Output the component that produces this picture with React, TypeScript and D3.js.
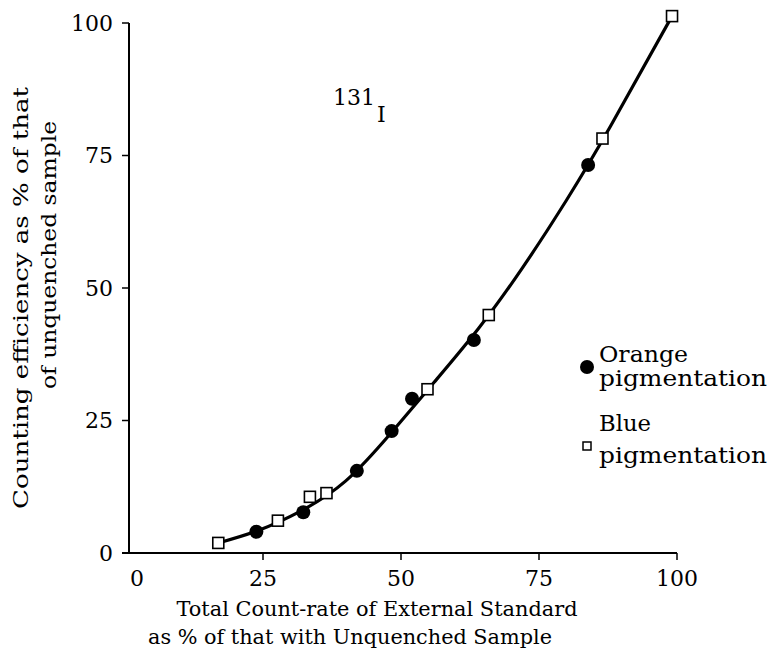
import React from "react";
import * as d3 from "d3";

const orangeX = [23.8, 32.3, 42.0, 48.3, 52.0, 63.2, 83.9];
const orangeY = [4.0, 7.7, 15.5, 23.0, 29.1, 40.2, 73.2];
const blueX = [16.9, 27.7, 33.5, 36.5, 54.8, 65.9, 86.5, 99.1];
const blueY = [1.9, 6.1, 10.6, 11.3, 30.9, 44.9, 78.2, 101.3];
const curveX = [16.9, 24, 32, 40, 48, 56, 64, 72, 80, 88, 99.1];
const curveY = [1.9, 4.2, 8.0, 13.6, 22.4, 32.2, 42.3, 53.8, 66.6, 80.6, 101.3];
const xTicks = [0, 25, 50, 75, 100];
const yTicks = [0, 25, 50, 75, 100];
const xTitle = ["Total Count-rate of External Standard", "as % of that with Unquenched Sample"];
const yTitle = ["Counting efficiency as % of that", "of unquenched sample"];
const legendLabels = [["Orange", "pigmentation"], ["Blue", "pigmentation"]];

const W = 774;
const H = 662;
const FONT = "'DejaVu Serif', serif";

export default function App() {
  const x = d3.scaleLinear().domain([0, 100]).range([125, 677]);
  const y = d3.scaleLinear().domain([0, 100]).range([553, 23]);
  const axisX = 129;
  const axisY = 553;

  const curvePts: [number, number][] = curveX.map((v, i) => [v, curveY[i]]);
  const line = d3
    .line<[number, number]>()
    .x((d) => x(d[0]))
    .y((d) => y(d[1]))
    .curve(d3.curveNatural);

  return (
    <svg
      width={W}
      height={H}
      style={{ position: "absolute", left: 0, top: 0, background: "#fff" }}
      fontFamily={FONT}
    >
      <rect width={W} height={H} fill="#fff" />
      {/* axes */}
      <line x1={axisX} x2={axisX} y1={y(100)} y2={axisY} stroke="#000" strokeWidth={2} />
      <line x1={122} x2={x(100)} y1={axisY} y2={axisY} stroke="#000" strokeWidth={2} />
      {yTicks.filter((t) => t > 0).map((t) => (
        <line key={"yt" + t} x1={axisX - 7} x2={axisX} y1={y(t)} y2={y(t)} stroke="#000" strokeWidth={1.5} />
      ))}
      {xTicks.filter((t) => t > 0).map((t) => (
        <line key={"xt" + t} x1={x(t)} x2={x(t)} y1={axisY} y2={axisY + 7} stroke="#000" strokeWidth={1.5} />
      ))}
      {yTicks.map((t) => (
        <text key={"yl" + t} x={113} y={y(t)} dy="0.35em" textAnchor="end" fontSize={22} fill="#000">
          {t}
        </text>
      ))}
      {xTicks.map((t) => (
        <text
          key={"xl" + t}
          x={t === 0 ? 137 : x(t)}
          y={578}
          dy="0.35em"
          textAnchor="middle"
          fontSize={22}
          fill="#000"
        >
          {t}
        </text>
      ))}
      {/* axis titles */}
      <text x={377} y={616} textAnchor="middle" fontSize={21} fill="#000" textLength={401} lengthAdjust="spacingAndGlyphs">
        {xTitle[0]}
      </text>
      <text x={350} y={644} textAnchor="middle" fontSize={21} fill="#000" textLength={404} lengthAdjust="spacingAndGlyphs">
        {xTitle[1]}
      </text>
      <text transform="translate(28,298) rotate(-90)" textAnchor="middle" fontSize={21} fill="#000" textLength={422} lengthAdjust="spacingAndGlyphs">
        {yTitle[0]}
      </text>
      <text transform="translate(56,255) rotate(-90)" textAnchor="middle" fontSize={21} fill="#000" textLength={268} lengthAdjust="spacingAndGlyphs">
        {yTitle[1]}
      </text>
      {/* curve */}
      <path d={line(curvePts) || ""} fill="none" stroke="#000" strokeWidth={3.2} />
      {/* points */}
      {orangeX.map((v, i) => (
        <circle key={"o" + i} cx={x(v)} cy={y(orangeY[i])} r={7} fill="#000" />
      ))}
      {blueX.map((v, i) => (
        <rect
          key={"b" + i}
          x={x(v) - 5.5}
          y={y(blueY[i]) - 5.5}
          width={11}
          height={11}
          fill="#fff"
          stroke="#000"
          strokeWidth={1.6}
        />
      ))}
      {/* isotope label */}
      <text x={333} y={105} fontSize={22} fill="#000">131</text>
      <text x={377} y={122} fontSize={22} fill="#000">I</text>
      {/* legend */}
      <circle cx={587} cy={367} r={7} fill="#000" />
      <text x={599} y={362} fontSize={23} fill="#000" textLength={89} lengthAdjust="spacingAndGlyphs">{legendLabels[0][0]}</text>
      <text x={599} y={386} fontSize={23} fill="#000" textLength={168} lengthAdjust="spacingAndGlyphs">{legendLabels[0][1]}</text>
      <rect x={583} y={442} width={8} height={8} fill="#fff" stroke="#000" strokeWidth={1.5} />
      <text x={599} y={431} fontSize={23} fill="#000" textLength={52} lengthAdjust="spacingAndGlyphs">{legendLabels[1][0]}</text>
      <text x={599} y={463} fontSize={23} fill="#000" textLength={168} lengthAdjust="spacingAndGlyphs">{legendLabels[1][1]}</text>
    </svg>
  );
}
